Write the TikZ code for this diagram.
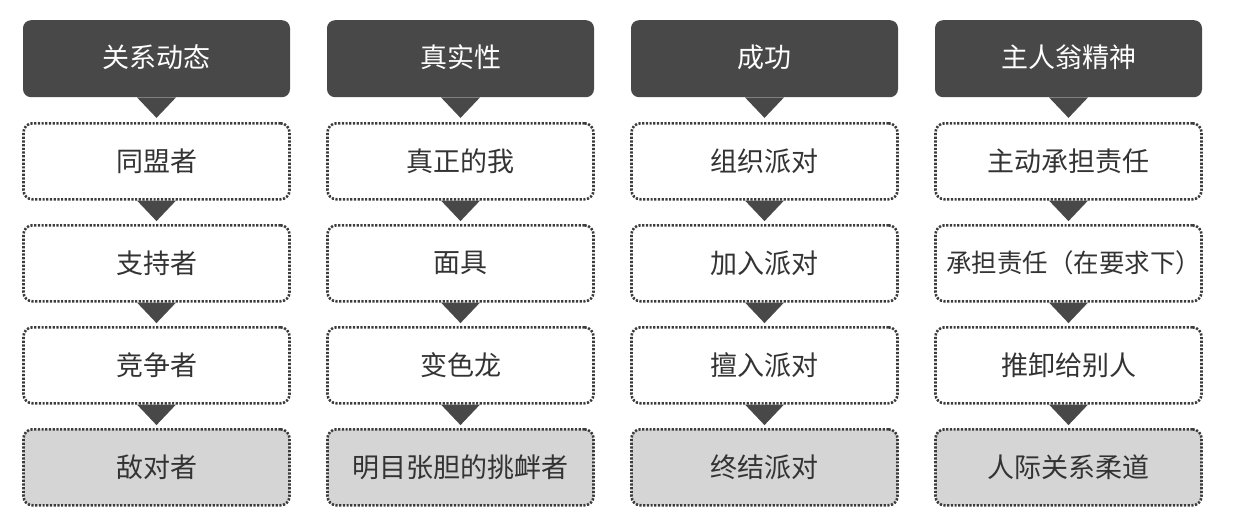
\documentclass[tikz,border=0pt]{standalone}
\usepackage{fontspec}
\newfontfamily\cjk{Noto Sans CJK SC}
\usetikzlibrary{calc}
\definecolor{hdr}{HTML}{484848}
\definecolor{dots}{HTML}{3C3C3C}
\definecolor{endfill}{HTML}{D5D5D5}
\definecolor{txt}{HTML}{333333}
\tikzset{
  hdrbox/.style={fill=hdr, rounded corners=8pt, minimum width=267pt, minimum height=77pt,
    inner sep=0pt, text=white, font=\cjk\fontsize{27}{30}\selectfont, anchor=north},
  stepbox/.style={draw=dots, line width=2.6pt, dash pattern=on 2.2pt off 1.5pt, rounded corners=9pt,
    minimum width=266pt, minimum height=76pt, inner sep=0pt, text=txt,
    font=\cjk\fontsize{27}{30}\selectfont, anchor=north},
  lastbox/.style={stepbox, fill=endfill},
  tri/.style={fill=hdr}
}
\newcommand{\tridown}[1]{\fill[tri] ($(#1.south)+(-19.5pt,0)$) -- ($(#1.south)+(19.5pt,0)$) -- ($(#1.south)+(0,-20.5pt)$) -- cycle;}
\begin{document}
\begin{tikzpicture}[x=1pt,y=-1pt]
\useasboundingbox (0,0) rectangle (1235,530);
\foreach \c/\xx/\h/\a/\b/\cc/\d in {
  1/156.5/关系动态/同盟者/支持者/竞争者/敌对者,
  2/460.5/真实性/真正的我/面具/变色龙/明目张胆的挑衅者,
  3/764.5/成功/组织派对/加入派对/擅入派对/终结派对,
  4/1068.5/主人翁精神/主动承担责任/{{\fontsize{25.5}{30}\selectfont 承担责任（在要求下）\kern-10pt}}/推卸给别人/人际关系柔道}{
  \node[hdrbox] (h\c) at (\xx,20) {\raisebox{5pt}{\h}};
  \node[stepbox] (s\c a) at (\xx,122) {\a};
  \node[stepbox] (s\c b) at (\xx,224) {\b};
  \node[stepbox] (s\c c) at (\xx,326) {\cc};
  \node[lastbox] (s\c d) at (\xx,428) {\d};
  \tridown{h\c}
  \tridown{s\c a}
  \tridown{s\c b}
  \tridown{s\c c}
}
\end{tikzpicture}
\end{document}
